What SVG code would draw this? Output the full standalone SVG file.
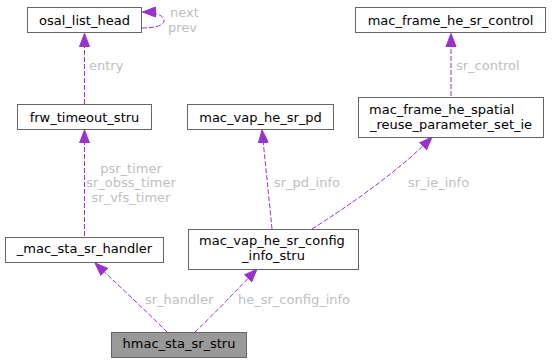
<svg xmlns="http://www.w3.org/2000/svg" width="552" height="363" viewBox="0 0 552 363">
<defs>
<style>
.node rect{fill:#ffffff;stroke:#666666;stroke-width:1}
.node.root rect{fill:#999999}
.node text{font-family:"DejaVu Sans",sans-serif;font-size:13px;fill:#000000}
.edge path{fill:none;stroke:#9a32cd;stroke-width:1;stroke-dasharray:5,2}
.lbl{font-family:"DejaVu Sans",sans-serif;font-size:13px;fill:#c0c0c0}
</style>
<marker id="arr" markerUnits="userSpaceOnUse" markerWidth="14" markerHeight="12" refX="13" refY="6" orient="auto" viewBox="0 0 14 12">
<path d="M0,1 L13,6 L0,11 Z" fill="#9a32cd" stroke="#9a32cd" stroke-width="1"/>
</marker>
</defs>
<rect width="552" height="363" fill="#ffffff"/>
<g id="connectors">
<g class="edge"><path d="M142,28 C153,28 164,26 164,21 C164,15 155,12 142.5,12" marker-end="url(#arr)"/></g>
<g class="edge"><path d="M84.5,104 L84.5,33.5" marker-end="url(#arr)"/></g>
<g class="edge"><path d="M84.5,236 L84.5,130" marker-end="url(#arr)"/></g>
<g class="edge"><path d="M167,332 C145,310 117,284 95,263" marker-end="url(#arr)"/></g>
<g class="edge"><path d="M195,332 C214,314 238,289 257,269" marker-end="url(#arr)"/></g>
<g class="edge"><path d="M272,229 C269,198 265,160 262,130" marker-end="url(#arr)"/></g>
<g class="edge"><path d="M312,229 C350,205 400,170 432,137" marker-end="url(#arr)"/></g>
<g class="edge"><path d="M451,96 L451,33.5" marker-end="url(#arr)"/></g>
<text class="lbl" x="170" y="16.5">next</text>
<text class="lbl" x="168" y="31.5">prev</text>
<text class="lbl" x="89" y="69.5">entry</text>
<text class="lbl" x="456" y="69.5">sr_control</text>
<text class="lbl" x="131" y="172.5" text-anchor="middle">psr_timer</text>
<text class="lbl" x="131" y="187" text-anchor="middle">sr_obss_timer</text>
<text class="lbl" x="131" y="201.5" text-anchor="middle">sr_vfs_timer</text>
<text class="lbl" x="274" y="186.5">sr_pd_info</text>
<text class="lbl" x="408" y="186.5">sr_ie_info</text>
<text class="lbl" x="145" y="303.5">sr_handler</text>
<text class="lbl" x="238" y="303.5">he_sr_config_info</text>
</g>
<g id="osal_list_head" class="node"><rect x="27.5" y="7.5" width="114" height="25"/><text x="84.5" y="24.5" text-anchor="middle">osal_list_head</text></g>
<g id="frw_timeout_stru" class="node"><rect x="17.5" y="104.5" width="134" height="25"/><text x="84.5" y="121.5" text-anchor="middle">frw_timeout_stru</text></g>
<g id="mac_vap_he_sr_pd" class="node"><rect x="187.5" y="104.5" width="146" height="25"/><text x="260.5" y="121.5" text-anchor="middle">mac_vap_he_sr_pd</text></g>
<g id="mac_frame_he_sr_control" class="node"><rect x="355.5" y="7.5" width="190" height="25"/><text x="450.5" y="24.5" text-anchor="middle">mac_frame_he_sr_control</text></g>
<g id="mac_frame_he_spatial_reuse_parameter_set_ie" class="node"><rect x="358.5" y="97.5" width="185" height="40"/><text x="369" y="113.5">mac_frame_he_spatial</text><text x="451" y="128.5" text-anchor="middle">_reuse_parameter_set_ie</text></g>
<g id="_mac_sta_sr_handler" class="node"><rect x="5.5" y="237.5" width="158" height="25"/><text x="84.5" y="253" text-anchor="middle">_mac_sta_sr_handler</text></g>
<g id="mac_vap_he_sr_config_info_stru" class="node"><rect x="188.5" y="229.5" width="170" height="40"/><text x="199" y="244.5">mac_vap_he_sr_config</text><text x="273.5" y="259.5" text-anchor="middle">_info_stru</text></g>
<g id="hmac_sta_sr_stru" class="node root"><rect x="111.5" y="332.5" width="135" height="25"/><text x="179" y="348" text-anchor="middle">hmac_sta_sr_stru</text></g>
</svg>
